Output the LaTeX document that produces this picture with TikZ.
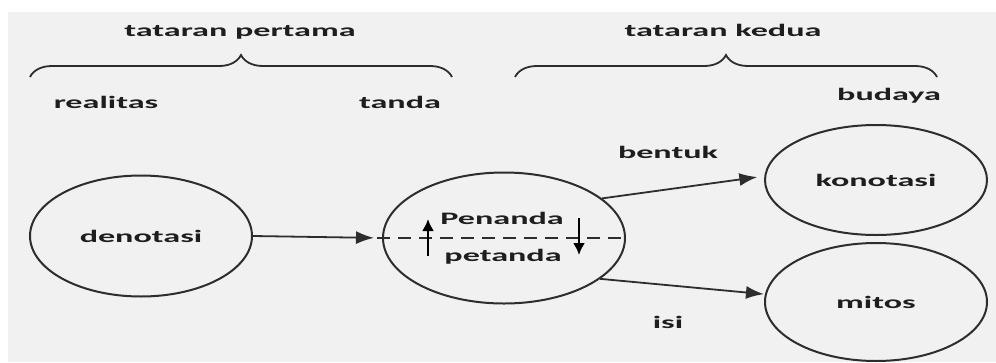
\documentclass[tikz,border=0pt]{standalone}
\usepackage{fontspec}
\setmainfont{Carlito}
\usepackage{graphicx}
\usepackage{tikz}
\usetikzlibrary{arrows.meta}
\usetikzlibrary{shapes.geometric}
\usetikzlibrary{decorations.pathreplacing}
\usepackage{xcolor}
\definecolor{fond}{RGB}{241,241,241}
\definecolor{trait}{RGB}{45,45,45}
\definecolor{texte}{RGB}{30,30,30}
\newcommand{\etire}[1]{\scalebox{1.95}[1]{#1}}

\begin{document}
\begin{tikzpicture}[x=1pt,y=-1pt,
    txt/.style={font=\fontsize{17.5}{20}\selectfont\bfseries, text=texte, inner sep=0pt},
    bulle/.style={ellipse, draw=trait, line width=2pt, inner sep=0pt, font=\fontsize{17.5}{20}\selectfont\bfseries, text=texte},
    fleche/.style={-{Latex[length=18pt,width=13pt]}, draw=trait, line width=1.8pt},
    petite/.style={-{Latex[length=12pt,width=12pt]}, draw=black, line width=2.2pt},
    accolade/.style={draw=trait, line width=1.8pt, decorate, decoration={brace, amplitude=22pt}}]
\useasboundingbox (0,0) rectangle (996,362);
% fond gris
\fill[fond] (8,12) rectangle (996,362);
% accolades
\draw[accolade] (30,77) -- (452,77);
\draw[accolade] (515,77) -- (937,77);
\node[txt, anchor=base] (tat1) at (240,36) {\etire{tataran pertama}};
\node[txt, anchor=base] (tat2) at (723,36) {\etire{tataran kedua}};
\node[txt, anchor=base] (realitas) at (106,108) {\etire{realitas}};
\node[txt, anchor=base] (tandalbl) at (400,108) {\etire{tanda}};
\node[txt, anchor=base] (budaya) at (889,100) {\etire{budaya}};
% cercles
\node[bulle, minimum width=222pt, minimum height=121pt] (denotasi) at (141,236) {\etire{denotasi}};
\node[bulle, minimum width=242pt, minimum height=131pt] (tanda) at (504,238) {};
\node[bulle, minimum width=222pt, minimum height=110pt] (konotasi) at (876,180) {\etire{konotasi}};
\node[bulle, minimum width=222pt, minimum height=118pt] (mitos) at (876,302) {\etire{mitos}};
% penanda / petanda
\draw[trait, line width=1.6pt, dash pattern=on 13pt off 8pt] ([xshift=-5pt]tanda.west) -- (tanda.east);
\node[txt, anchor=base] (penanda) at (502,224) {\etire{Penanda}};
\node[txt, anchor=base] (petanda) at (503,261) {\etire{petanda}};
\coordinate (basG) at (428,256);
\coordinate (hautG) at (428,219);
\coordinate (hautD) at (579,218);
\coordinate (basD) at (579,255);
\draw[petite] (basG) -- (hautG);
\draw[petite] (hautD) -- (basD);
% fleches
\draw[fleche, shorten >=8pt] (denotasi.east) -- (tanda.west);
\draw[fleche, shorten >=7pt] (tanda.22) -- (konotasi.178);
\draw[fleche, shorten >=1pt] (tanda.-23) -- (mitos.176);
\node[txt, anchor=base] (bentuk) at (668,158) {\etire{bentuk}};
\node[txt, anchor=base] (isi) at (668,328) {\etire{isi}};
\end{tikzpicture}
\end{document}
